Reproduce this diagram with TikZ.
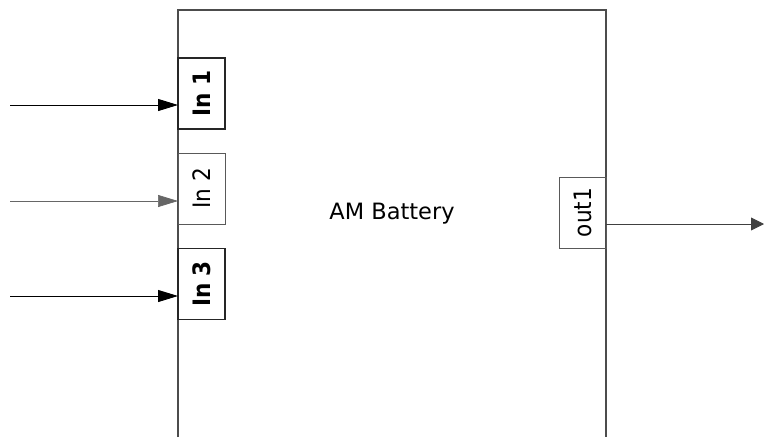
\documentclass[tikz,border=0pt]{standalone}
\usepackage{fontspec}
\setmainfont{DejaVu Sans}
\newfontfamily\portfont{DejaVu Sans Condensed}
\usetikzlibrary{positioning,arrows.meta,calc}
\newcommand{\portsize}{\portfont\fontsize{24}{25}\selectfont}

\begin{document}
\begin{tikzpicture}[
    x=1pt, y=-1pt,
    block/.style={draw=black!70, line width=1.2pt},
    port/.style={draw=black!65, line width=0.8pt, rotate=90, inner sep=0pt,
                 minimum width=71pt, minimum height=47pt},
    title/.style={font=\fontsize{22.5}{24}\selectfont},
    arr/.style={-{Triangle[length=20pt,width=12pt]}, line width=1pt},
    arrthin/.style={-{Triangle[length=20pt,width=12pt]}, line width=0.7pt, black!60},
    outarr/.style={-{Triangle[length=13pt,width=13pt]}, line width=0.9pt, black!75}
  ]
  \useasboundingbox (0,0) rectangle (764,437);

  % ========= block outline (open at the bottom) =========
  \coordinate (bl) at (178,437);
  \coordinate (tl) at (178,10);
  \coordinate (tr) at (606,10);
  \coordinate (br) at (606,437);
  \draw[block] (bl) -- (tl) -- (tr) -- (br);

  \node[title] (name) at (392,214) {AM Battery};

  % ========= input ports =========
  \node[port, line width=1.1pt, draw=black!85] (in1) at (201.5,93.5) {\portsize\bfseries In 1};
  \node[port]                                  (in2) at (201.5,188.5) {\portsize In 2};
  \node[port, line width=1.1pt, draw=black!85] (in3) at (201.5,284) {\portsize\bfseries In 3};

  % ========= output port =========
  \node[port] (out1) at (582.5,212.5) {\portsize out1};

  % ========= signals =========
  \coordinate (src1) at (10,105);
  \coordinate (src2) at (10,201);
  \coordinate (src3) at (10,296);
  \coordinate (sink) at (764,224);

  \draw[arr]     (src1) -- (src1 -| tl);
  \draw[arrthin] (src2) -- (src2 -| tl);
  \draw[arr]     (src3) -- (src3 -| tl);
  \draw[outarr]  (sink -| tr) -- (sink);

\end{tikzpicture}
\end{document}
